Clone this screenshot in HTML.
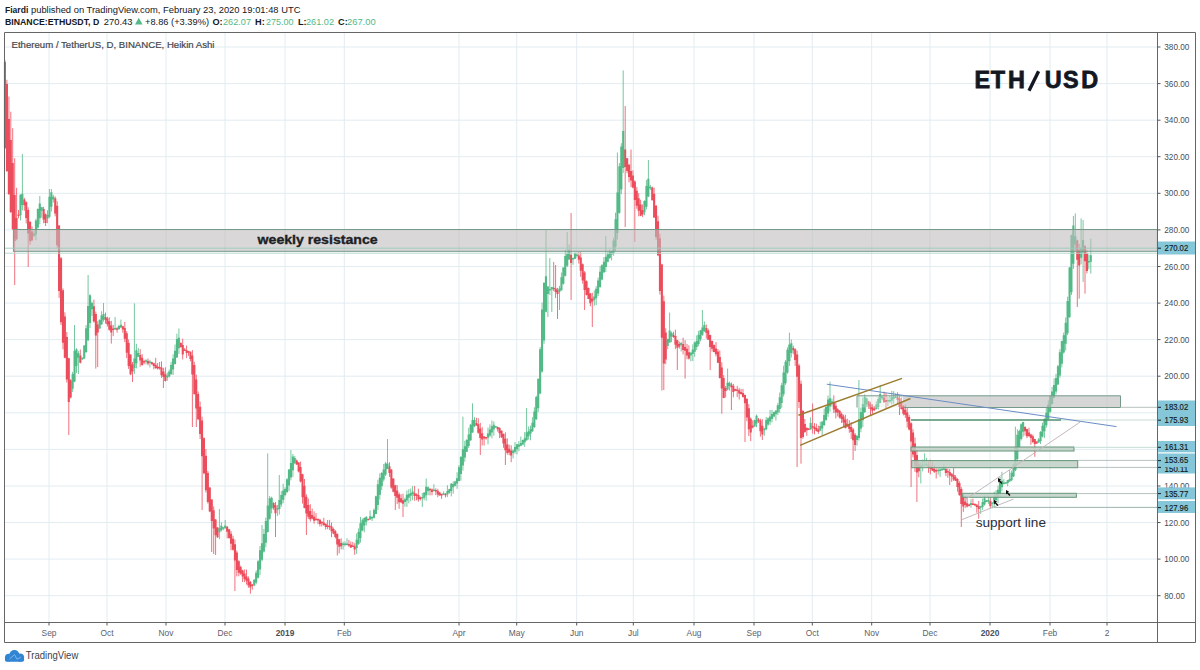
<!DOCTYPE html>
<html><head><meta charset="utf-8">
<style>
html,body{margin:0;padding:0;background:#fff;width:1200px;height:670px;overflow:hidden}
svg{display:block}
text{font-family:"Liberation Sans",sans-serif}
</style></head>
<body>
<svg width="1200" height="670" viewBox="0 0 1200 670">
<rect width="1200" height="670" fill="#fff"/>
<path d="M49 32V622M107 32V622M166 32V622M225 32V622M285 32V622M344.3 32V622M459 32V622M516.7 32V622M576.7 32V622M633.3 32V622M694 32V622M754 32V622M812.3 32V622M871.7 32V622M930 32V622M990 32V622M1050 32V622M1107 32V622M5 595.7H1157M5 559.1H1157M5 522.5H1157M5 486H1157M5 449.4H1157M5 412.8H1157M5 376.2H1157M5 339.6H1157M5 303.1H1157M5 266.5H1157M5 229.9H1157M5 193.3H1157M5 156.7H1157M5 120.2H1157M5 83.6H1157M5 47H1157" stroke="#e2ecf1" stroke-width="1" fill="none"/>
<path d="M5 60.3V149M6.9 79.8V172M8.9 96.5V195M10.8 111.7V213M12.7 128.2V230M14.7 158.3V285M16.6 187.8V240.2M18.5 210V218.3M24.3 197.8V210.8M26.2 201.3V223.5M28.2 207.4V267M30.1 221V244.9M32 226.4V241.4M43.6 206.8V223.2M45.6 213.4V226M55.2 196.4V216.4M57.2 201.2V247.7M59.1 225.3V297.9M61 256.9V325.1M63 288.4V349.4M64.9 312.3V358.3M66.8 332V382.6M68.8 357.7V435M70.7 379.1V398.4M80.3 349.5V363.5M93.9 299.6V322.6M95.8 311.5V368.6M97.7 321.2V367M105.5 312.6V323.7M107.4 316.8V326.5M109.3 317.3V330.6M111.3 320.9V343.6M113.2 324.9V336.2M117.1 327.2V332.7M122.8 325.8V332.8M124.8 321.9V342.1M126.7 331.2V358.1M128.6 339.5V368.9M130.6 354.4V375.2M132.5 362V382M140.2 349.1V366.7M142.2 354.1V365.7M144.1 359.8V364.2M148 358.4V365.3M151.8 361.6V364.5M153.8 362.7V369.4M155.7 357.8V368.9M157.6 363V369.6M159.6 362V369.7M161.5 361.4V377.8M163.4 367.8V388M165.4 367.3V381.5M180.8 342.3V347.8M182.7 338.6V359.5M184.7 348V351M186.6 345.5V358M188.5 350.8V355.9M190.5 351.6V361.3M192.4 350.1V427M194.3 361.8V394.7M196.3 374.7V427M198.2 391.4V420.1M200.1 401.7V439.1M202.1 416.7V510M204 437.3V474.3M205.9 449V492.6M207.9 470.9V503.6M209.8 487.2V512.2M211.7 499.2V552M213.7 506.4V554M215.6 519V555M217.5 527.1V537.9M227.2 526.1V538.4M229.1 529.1V538.7M231 531.1V550.2M233 535.7V550.6M234.9 539.4V591M236.8 550.6V576.4M238.8 560.2V576.3M240.7 565.6V575.1M242.6 569.7V582M244.6 569.4V582.2M246.5 569.6V584.6M248.4 576.4V587.8M250.4 581V593.7M252.3 584V589.8M273.5 502.3V509.8M275.5 501.9V537M296.7 459.5V464.9M298.7 462V472.5M300.6 461.5V482.5M302.5 473.9V503.6M304.5 479V508.3M306.4 494.3V535M308.3 498.5V519.1M310.3 504.2V521.6M312.2 508.6V519.4M314.1 511.3V523.6M316 513.1V520.3M318 518.2V524.3M319.9 518.8V526.5M321.8 521.3V526.5M323.8 517.8V525.9M325.7 523.5V529.6M327.6 520V529.2M329.6 519.8V529.9M331.5 522.6V537.1M333.4 527.5V534.3M335.4 530.1V538.5M337.3 533.4V555.5M339.2 538.9V553.4M341.2 538.3V549.4M348.9 539.9V546.9M350.8 541.5V548M352.8 541.9V546.8M354.7 543.2V554.9M368.2 518.9V520.2M389.5 462.3V476.9M391.4 469.4V488.7M393.3 478.3V492.4M395.3 484.9V510M397.2 485.1V504.1M399.1 492.5V508.8M401.1 494.3V503.2M403 493.6V517M414.6 486V500.8M416.5 493.4V500.3M418.4 488.7V501.7M420.4 496.5V500.4M430 488.6V495.4M432 488.5V495.3M435.8 488.3V495.1M437.8 488.8V497.2M439.7 491.8V495.5M441.6 493.5V498.8M445.5 493.2V497.4M476.4 417.8V425.8M478.3 418.2V433.7M480.3 422.9V455M482.2 427.1V445.5M484.1 436.1V445.5M486.1 436.9V439.8M497.7 426.5V431.6M499.6 427.3V438.1M501.5 430.4V437.9M503.5 433.4V447.8M505.4 432.4V465M507.3 438.4V454.7M509.2 444.6V455.3M511.2 445.3V462.2M553.7 262V291.2M555.6 265V298M557.5 287.8V319M571.1 213V300M578.8 251.7V263.6M580.7 251.4V276.8M582.7 263.4V283.7M584.6 271.1V310M586.5 280.4V295.4M588.5 287.5V299.1M590.4 293.1V306.3M592.3 292.8V327M625.2 106V227M627.1 158V173.1M629 163.9V182.4M631 149.5V187M632.9 170.4V188.3M634.8 180.2V242M636.8 186.9V208.8M638.7 193.2V216.4M640.6 199.8V216.2M642.6 204.4V217.1M652.2 186.6V200.4M654.1 187.7V218M656.1 205V239.9M658 215.6V256.1M659.9 233.7V294.6M661.9 263.8V390.6M663.8 295.6V390M665.7 328.3V364.1M673.5 331.8V337.9M675.4 329.7V349.1M677.3 339.8V370M679.3 341.6V348.6M683.1 337.6V354.4M685.1 340.2V378.6M687 343.9V359.2M688.9 345.3V359.6M706.3 324.5V338.6M708.2 328.7V340M710.2 334.9V370M712.1 340.6V351.6M714 344.5V352.3M716 342.1V356.5M717.9 349V363.1M719.8 350.5V378.5M721.8 362.2V413.7M723.7 375.1V398.2M725.6 386.1V397.4M731.4 382.4V410M733.4 383.8V397.3M735.3 388.7V391.1M737.2 385.9V397.1M739.2 387.8V399.5M741.1 388.8V394.7M743 388.9V397.6M745 394.5V442M746.9 398.1V421.2M748.8 404.1V436M750.7 417.3V441M752.7 420.4V428.4M758.5 418V423M760.4 418.7V436.7M762.3 419.2V440M793.3 345.7V354.3M795.2 348.3V366M797.1 350.7V467M799 363.8V408.1M801 380.6V463.7M802.9 409.9V438.9M804.8 419V432.8M806.8 427.2V435.8M808.7 428.3V429.6M812.6 403.5V433.6M814.5 423.1V434.4M816.4 423.7V431.5M818.4 425.6V433.8M833.8 395.3V413.1M835.8 402.9V418.4M837.7 408.1V416.4M839.6 410V418.4M841.6 412.3V423.1M843.5 414.6V427.1M845.4 414.8V428.5M847.3 418.7V426.9M849.3 420.2V432.8M851.2 422.2V439M853.1 428V460M855.1 433V451M868.6 400.9V408.8M870.5 401.8V415.3M872.5 404.2V413.8M874.4 406.1V411.1M884.1 391.7V402.7M886 393.1V408.7M897.6 392.3V404M899.5 395.8V415M901.4 397.5V409.6M903.4 405V415.4M905.3 404.8V417.9M907.2 407.2V427.6M909.2 415V430.5M911.1 422.2V487M913 429.2V457.3M915 437.5V471.9M916.9 450V502M918.8 461.2V477.3M928.5 461.2V472.8M930.4 459.7V474.3M932.4 461.7V471M934.3 464.8V473M936.2 468.3V478.5M945.9 467.6V476.1M947.8 468.6V477.8M949.7 469.1V485M951.7 473.5V481.9M953.6 468.2V480.9M955.5 475.2V481M957.5 478.3V491.7M959.4 481.3V495.9M961.3 487.1V527M963.3 495.6V511.9M965.2 495.6V508M967.1 497.3V507.5M969.1 503.9V506.4M972.9 498.6V504.9M974.9 503.2V505.8M976.8 503.9V512.7M978.7 501V518.7M990.3 497.1V508.6M1025.1 426.3V435.6M1027 428.8V438.2M1029 427.6V436.5M1030.9 433.7V444.8M1032.8 434.5V442.9M1034.8 438.8V456.8M1036.7 441.3V443.9M1077.3 239.6V307M1079.2 243.8V298.7M1085 245.2V293.6M1086.9 249.9V273.4" stroke="#eb4d5c" stroke-width="0.8" fill="none"/><path d="M20.5 194.4V220.4M22.4 154V210.3M34 230.2V236.9M35.9 218.9V240.2M37.8 208.4V228.8M39.8 196V224.4M41.7 206.9V217.6M47.5 210.1V223.2M49.4 189V217.8M51.4 189.1V211.5M53.3 194.7V202.5M72.6 371.8V391.9M74.5 325V382.2M76.5 348.3V372.9M78.4 351V374M82.3 357.3V360M84.2 345.2V359M86.1 325V353M88.1 275V341.1M90 294.3V328M91.9 301.5V316M99.7 319.2V329.1M101.6 311.3V325.1M103.5 303V321.7M115.1 317V329.9M119 324.8V329.9M120.9 319.6V327.8M134.4 303.4V373.9M136.4 343.8V368.4M138.3 347.9V356.9M146 359.2V364.4M149.9 359.8V367.5M167.3 372.6V380.8M169.2 369.4V377.5M171.1 361.7V375M173.1 354.2V375M175 344.5V364.5M176.9 333.7V357.6M178.9 328.5V354M219.4 509V539.2M221.4 522.2V531.4M223.3 527.5V530.3M225.2 520V529M254.2 579.2V586.3M256.2 570.4V584.3M258.1 560.2V578.4M260 546V575.1M262 525V561.4M263.9 528.9V552.7M265.8 517.7V547.3M267.7 453.4V532.6M269.7 496V519.7M271.6 496.7V513.4M277.4 504.9V516.1M279.3 475V514.6M281.3 491.2V506.8M283.2 483.7V503.1M285.1 487.3V496.3M287.1 478.2V493.1M289 469.1V491M290.9 450V480.4M292.9 453.9V476.9M294.8 455.8V464.2M343.1 541.6V549.5M345 541.4V546.3M347 538.2V545.5M356.6 533.4V553.8M358.6 528.4V544.7M360.5 516.9V542.6M362.4 518.6V531.2M364.3 517.3V532.3M366.3 516V525.5M370.1 510.5V519.9M372.1 515.7V521.1M374 508.5V518.5M375.9 495.7V514M377.9 479.7V509.8M379.8 473.3V499.6M381.7 472V490M383.7 464V481.5M385.6 461.8V476M387.5 439V469.2M404.9 497.8V506.7M406.9 490.5V506.9M408.8 489.2V503.4M410.7 488.5V501.3M412.6 486.1V500.2M422.3 493V507M424.2 492.3V500.1M426.2 478.6V500.8M428.1 486.4V495.3M433.9 484.2V491.4M443.6 491.3V495M447.4 485.2V497M449.4 488.8V493.6M451.3 483V496.4M453.2 481.3V493.8M455.2 480.7V486.3M457.1 472.2V488.9M459 465.1V481.1M460.9 456V480.6M462.9 416.7V470.6M464.8 440.8V461.8M466.7 439.2V452M468.7 427.8V448M470.6 423.8V440.9M472.5 403.3V432.7M474.5 417.1V427.2M488 427.5V444.3M489.9 424.4V437M491.9 420.5V438.3M493.8 421.4V435.7M495.7 425.9V427.4M513.1 449.4V458.4M515 442.1V453.8M517 443.9V454.4M518.9 440.9V451.4M520.8 436.6V446.3M522.8 439.6V445.3M524.7 432.1V446.9M526.6 408V440.7M528.6 426.5V439.6M530.5 425.6V440.3M532.4 417.2V431.9M534.4 407.3V427.9M536.3 395.7V419.9M538.2 378.3V412.2M540.2 347.2V394.1M542.1 302.6V372.6M544 282V343.9M546 229V312.5M547.9 286.2V317M549.8 258V295M551.8 286.8V312M559.5 285.9V310M561.4 272.5V290.7M563.3 267.4V284.7M565.3 249.9V276.5M567.2 232V267.2M569.1 244.3V259.9M573 257.6V264.8M574.9 252.3V259.2M576.9 252.6V257.5M594.3 290.5V305.8M596.2 286.2V305M598.1 277.6V296.1M600.1 266.1V287.7M602 264.1V280.2M603.9 257.1V273.1M605.8 236V272.1M607.8 252.1V262.4M609.7 249.3V258.9M611.6 250.8V260.3M613.6 237.8V255.7M615.5 212.6V251M617.4 152.5V239.4M619.4 163V213.7M621.3 143.2V194.2M623.2 70.4V173M644.5 200.3V215.2M646.4 180.1V209.4M648.4 160V197.1M650.3 184.8V190M667.7 338.6V349M669.6 312.5V342.6M671.5 331.6V342.2M681.2 341.8V351.5M690.9 351.8V361.4M692.8 344.4V361M694.7 341.6V356.8M696.7 335.4V349.9M698.6 330.9V346.3M700.5 330.2V341.3M702.4 310V335.8M704.4 321.5V332.1M727.6 368.5V390.3M729.5 381.6V390.6M754.6 419.6V426.7M756.5 414.6V427.2M764.3 427.9V435.8M766.2 417V430.3M768.1 417.5V425.7M770.1 410V424.9M772 409.9V422.5M773.9 411.6V417.4M775.9 409.9V420.5M777.8 402.9V415M779.7 392.5V412.9M781.7 382.8V407.8M783.6 365.7V396.6M785.5 360V384.9M787.5 347.3V373.8M789.4 332.6V366M791.3 339.5V357.5M810.6 417.4V429.8M820.3 421.8V430.9M822.2 420.8V435.1M824.2 408.6V426.1M826.1 406.1V420.7M828 395.5V416.8M830 381.7V411.5M831.9 398.6V406.7M857 434.9V445.6M858.9 380V440.5M860.9 407.6V432.2M862.8 397.6V427.1M864.7 394.4V413.1M866.7 397.5V407.1M876.3 401.3V409.4M878.3 396.7V409.4M880.2 385V403.2M882.1 396V400.1M887.9 397V406.1M889.9 396.1V403.1M891.8 390.8V404.7M893.7 391.2V403.7M895.6 393.4V398.1M920.8 462.5V483.5M922.7 459.5V471.3M924.6 453.4V465.8M926.6 457.9V465.9M938.2 468.2V474.7M940.1 467V476.9M942 468.3V470.9M943.9 463.8V470.1M971 499.1V507.8M980.7 505.7V513.9M982.6 498.5V509.9M984.5 495.4V505.6M986.5 500V502.1M988.4 495.5V503.9M992.2 502.3V508.4M994.2 491.8V507.7M996.1 490V501.5M998 485.6V503.3M1000 477V497.3M1001.9 471.8V491.3M1003.8 479.2V484.6M1005.8 481.9V483.5M1007.7 479.9V486.2M1009.6 470V481.8M1011.6 470.4V481.2M1013.5 463.6V477M1015.4 426.7V471.2M1017.4 429.3V464.5M1019.3 429.6V447.6M1021.2 423.3V440.4M1023.2 421.8V436.6M1038.6 438.1V442.8M1040.5 431.1V443.9M1042.5 422.6V437.4M1044.4 418.2V438.1M1046.3 407.7V427.7M1048.3 400.4V419.9M1050.2 395.5V412.8M1052.1 386.8V404.4M1054.1 378.4V398.1M1056 373.9V394.4M1057.9 365V385M1059.9 349.2V377.7M1061.8 340.8V367.5M1063.7 332.6V353.6M1065.7 317.4V350.5M1067.6 296.7V335.2M1069.5 267.1V317.7M1071.5 234.7V294.9M1073.4 215.9V269M1075.3 213.4V250.8M1081.1 218.4V264.3M1083.1 220V282M1088.8 254.5V269.3M1090.8 238.5V273.6" stroke="#53b987" stroke-width="0.8" fill="none"/><path d="M3.9 62h2.1V148h-2.1zM5.9 84h2.1V171h-2.1zM7.8 119h2.1V194h-2.1zM9.7 140h2.1V212h-2.1zM11.7 163h2.1V229h-2.1zM13.6 195h2.1V241h-2.1zM15.5 218h2.1V239.1h-2.1zM17.5 214.5h2.1V216h-2.1zM23.3 199.4h2.1V205.3h-2.1zM25.2 202.3h2.1V217.9h-2.1zM27.1 210.1h2.1V233.6h-2.1zM29.1 221.9h2.1V241.2h-2.1zM31 231.5h2.1V240.3h-2.1zM42.6 209.1h2.1V219.4h-2.1zM44.5 214.2h2.1V222.9h-2.1zM54.2 198.2h2.1V213.4h-2.1zM56.1 205.8h2.1V245.3h-2.1zM58 225.6h2.1V291h-2.1zM60 258.3h2.1V322.2h-2.1zM61.9 290.2h2.1V342.7h-2.1zM63.8 316.5h2.1V357.7h-2.1zM65.8 337.1h2.1V379.5h-2.1zM67.7 358.3h2.1V402h-2.1zM69.6 380.2h2.1V397.5h-2.1zM79.3 355.5h2.1V362.8h-2.1zM92.8 306.2h2.1V321.6h-2.1zM94.8 313.9h2.1V335.4h-2.1zM96.7 324.6h2.1V332.5h-2.1zM104.4 316.9h2.1V319.7h-2.1zM106.3 318.3h2.1V324.2h-2.1zM108.3 321.2h2.1V329.8h-2.1zM110.2 325.5h2.1V332.4h-2.1zM112.1 328.5h2.1V330h-2.1zM116 328.3h2.1V329.8h-2.1zM121.8 326.2h2.1V329.5h-2.1zM123.7 327.9h2.1V338.7h-2.1zM125.7 333.3h2.1V352.8h-2.1zM127.6 343h2.1V366.1h-2.1zM129.5 354.6h2.1V374.3h-2.1zM131.5 364.4h2.1V371.6h-2.1zM139.2 354.9h2.1V360.6h-2.1zM141.1 357.7h2.1V365.1h-2.1zM143 360.9h2.1V362.4h-2.1zM146.9 361h2.1V363.4h-2.1zM150.8 362.2h2.1V364.3h-2.1zM152.7 363.2h2.1V366.1h-2.1zM154.6 364.7h2.1V368h-2.1zM156.6 366.4h2.1V368.5h-2.1zM158.5 366.9h2.1V368.4h-2.1zM160.4 367.6h2.1V375.2h-2.1zM162.4 371.4h2.1V376.9h-2.1zM164.3 374.2h2.1V381.1h-2.1zM179.8 342.9h2.1V346.9h-2.1zM181.7 344.9h2.1V354.4h-2.1zM183.6 349.5h2.1V351h-2.1zM185.6 350.2h2.1V353h-2.1zM187.5 351.1h2.1V352.6h-2.1zM189.4 351.8h2.1V359h-2.1zM191.3 355.4h2.1V374.6h-2.1zM193.3 365h2.1V394h-2.1zM195.2 379.5h2.1V408.6h-2.1zM197.1 394.1h2.1V419.3h-2.1zM199.1 406.7h2.1V434.1h-2.1zM201 420.4h2.1V456.2h-2.1zM202.9 438.3h2.1V473.3h-2.1zM204.9 455.8h2.1V490.2h-2.1zM206.8 473h2.1V501.9h-2.1zM208.7 487.4h2.1V511.6h-2.1zM210.7 499.5h2.1V521.1h-2.1zM212.6 510.3h2.1V528.5h-2.1zM214.5 519.4h2.1V535.3h-2.1zM216.5 527.4h2.1V537.2h-2.1zM226.1 526.8h2.1V531.7h-2.1zM228.1 529.3h2.1V538.1h-2.1zM230 533.7h2.1V543.7h-2.1zM231.9 538.7h2.1V549.8h-2.1zM233.9 544.2h2.1V560.6h-2.1zM235.8 552.4h2.1V570h-2.1zM237.7 561.2h2.1V572.8h-2.1zM239.6 567h2.1V573.7h-2.1zM241.6 570.4h2.1V576.6h-2.1zM243.5 573.5h2.1V579.3h-2.1zM245.4 576.4h2.1V580.7h-2.1zM247.4 578.5h2.1V585.4h-2.1zM249.3 582h2.1V587.5h-2.1zM251.2 584.6h2.1V586.1h-2.1zM272.5 503.1h2.1V507.6h-2.1zM274.4 505.3h2.1V513.2h-2.1zM295.7 460.6h2.1V464.4h-2.1zM297.6 462.5h2.1V471.5h-2.1zM299.5 467h2.1V481.5h-2.1zM301.5 474.3h2.1V497.2h-2.1zM303.4 485.7h2.1V507.9h-2.1zM305.3 496.8h2.1V513.4h-2.1zM307.3 505.1h2.1V516.8h-2.1zM309.2 511h2.1V519.3h-2.1zM311.1 515.1h2.1V518.6h-2.1zM313.1 516.8h2.1V520.7h-2.1zM315 518.7h2.1V520.2h-2.1zM316.9 519h2.1V520.5h-2.1zM318.9 519.7h2.1V524.1h-2.1zM320.8 521.7h2.1V523.2h-2.1zM322.7 522.4h2.1V525.1h-2.1zM324.7 523.8h2.1V526.9h-2.1zM326.6 525.4h2.1V526.9h-2.1zM328.5 525.8h2.1V527.3h-2.1zM330.5 526.6h2.1V531.3h-2.1zM332.4 528.9h2.1V533.4h-2.1zM334.3 531.2h2.1V537h-2.1zM336.2 534.1h2.1V544.5h-2.1zM338.2 539.3h2.1V546.7h-2.1zM340.1 543h2.1V546.3h-2.1zM347.8 544.1h2.1V545.6h-2.1zM349.8 544.8h2.1V547.6h-2.1zM351.7 545.5h2.1V547h-2.1zM353.6 546.3h2.1V549.6h-2.1zM367.2 518.7h2.1V520.2h-2.1zM388.4 466.3h2.1V472.9h-2.1zM390.3 469.6h2.1V487.6h-2.1zM392.3 478.6h2.1V491.8h-2.1zM394.2 485.2h2.1V496h-2.1zM396.1 490.6h2.1V497.8h-2.1zM398.1 494.2h2.1V502.3h-2.1zM400 498.2h2.1V502.2h-2.1zM401.9 500.2h2.1V503.8h-2.1zM413.5 492.9h2.1V495.9h-2.1zM415.5 494.3h2.1V495.8h-2.1zM417.4 495.1h2.1V499.5h-2.1zM419.3 497.3h2.1V499h-2.1zM429 488.8h2.1V490.3h-2.1zM430.9 489.6h2.1V491.9h-2.1zM434.8 490h2.1V491.5h-2.1zM436.7 490.7h2.1V494.5h-2.1zM438.6 492.6h2.1V495.4h-2.1zM440.6 493.9h2.1V495.4h-2.1zM444.4 493.8h2.1V495.3h-2.1zM475.4 423.1h2.1V425.4h-2.1zM477.3 424.3h2.1V432.7h-2.1zM479.2 428.5h2.1V437.9h-2.1zM481.1 433.2h2.1V439.6h-2.1zM483.1 436.4h2.1V438.6h-2.1zM485 436.9h2.1V438.4h-2.1zM496.6 426.9h2.1V429.3h-2.1zM498.5 428.1h2.1V433.3h-2.1zM500.5 430.7h2.1V437.2h-2.1zM502.4 434h2.1V443.4h-2.1zM504.3 438.7h2.1V450.2h-2.1zM506.3 444.5h2.1V452.9h-2.1zM508.2 448.7h2.1V452.5h-2.1zM510.1 450.6h2.1V455.4h-2.1zM552.6 287.7h2.1V289.2h-2.1zM554.6 288.5h2.1V291.9h-2.1zM556.5 290.2h2.1V293.9h-2.1zM570 254.7h2.1V262.9h-2.1zM577.8 255.4h2.1V259.7h-2.1zM579.7 257.6h2.1V270.8h-2.1zM581.6 264.2h2.1V280.5h-2.1zM583.5 272.4h2.1V290h-2.1zM585.5 281.2h2.1V295h-2.1zM587.4 288.1h2.1V299h-2.1zM589.3 293.5h2.1V303.2h-2.1zM591.3 298.4h2.1V301.4h-2.1zM624.1 149.6h2.1V167.1h-2.1zM626.1 158.3h2.1V171.1h-2.1zM628 164.7h2.1V177.1h-2.1zM629.9 170.9h2.1V180.4h-2.1zM631.8 175.6h2.1V187.4h-2.1zM633.8 181.5h2.1V199.9h-2.1zM635.7 190.7h2.1V205.7h-2.1zM637.6 198.2h2.1V210.7h-2.1zM639.6 204.5h2.1V215.8h-2.1zM641.5 210.1h2.1V214.5h-2.1zM651.2 187.5h2.1V200.2h-2.1zM653.1 193.8h2.1V217.6h-2.1zM655 205.7h2.1V236.9h-2.1zM657 221.3h2.1V255.3h-2.1zM658.9 238.3h2.1V290.9h-2.1zM660.8 264.6h2.1V337.8h-2.1zM662.8 301.2h2.1V363.5h-2.1zM664.7 332.4h2.1V359.6h-2.1zM672.4 334.8h2.1V337h-2.1zM674.4 335.9h2.1V344.8h-2.1zM676.3 340.3h2.1V347.7h-2.1zM678.2 344h2.1V346.5h-2.1zM682.1 344.1h2.1V349.9h-2.1zM684 347h2.1V350.7h-2.1zM685.9 348.8h2.1V355.6h-2.1zM687.9 352.2h2.1V358.6h-2.1zM705.3 328.1h2.1V332.7h-2.1zM707.2 330.4h2.1V339.8h-2.1zM709.1 335.1h2.1V346.9h-2.1zM711.1 341h2.1V348.8h-2.1zM713 344.9h2.1V352h-2.1zM714.9 348.5h2.1V354.3h-2.1zM716.9 351.4h2.1V362.7h-2.1zM718.8 357h2.1V378.1h-2.1zM720.7 367.5h2.1V388.4h-2.1zM722.6 378h2.1V398.1h-2.1zM724.6 388h2.1V391h-2.1zM730.4 384.5h2.1V387.3h-2.1zM732.3 385.9h2.1V391.9h-2.1zM734.2 388.9h2.1V390.7h-2.1zM736.2 389.5h2.1V391h-2.1zM738.1 390.2h2.1V393.6h-2.1zM740 391.9h2.1V393.9h-2.1zM742 392.9h2.1V396.9h-2.1zM743.9 394.9h2.1V403.2h-2.1zM745.8 399h2.1V417.4h-2.1zM747.8 408.2h2.1V429.2h-2.1zM749.7 418.7h2.1V432.4h-2.1zM751.6 425.5h2.1V427.5h-2.1zM757.4 419.5h2.1V421.3h-2.1zM759.4 420.4h2.1V431.2h-2.1zM761.3 425.8h2.1V434.5h-2.1zM792.2 348.1h2.1V350.3h-2.1zM794.1 349.2h2.1V359.9h-2.1zM796.1 354.5h2.1V376.7h-2.1zM798 365.6h2.1V401.9h-2.1zM799.9 383.8h2.1V438h-2.1zM801.9 410.9h2.1V437.1h-2.1zM803.8 424h2.1V431.9h-2.1zM805.7 428h2.1V430.3h-2.1zM807.7 428.5h2.1V430h-2.1zM811.5 426h2.1V427.5h-2.1zM813.5 426.7h2.1V429.1h-2.1zM815.4 427.9h2.1V431h-2.1zM817.3 429.5h2.1V431.9h-2.1zM832.8 402h2.1V409.6h-2.1zM834.7 405.8h2.1V412.5h-2.1zM836.6 409.2h2.1V412.4h-2.1zM838.6 410.8h2.1V417.4h-2.1zM840.5 414.1h2.1V419.1h-2.1zM842.4 416.6h2.1V422.6h-2.1zM844.4 419.6h2.1V428h-2.1zM846.3 423.8h2.1V426.5h-2.1zM848.2 425.1h2.1V428.9h-2.1zM850.2 427h2.1V432h-2.1zM852.1 429.5h2.1V440.2h-2.1zM854 434.8h2.1V445.1h-2.1zM867.6 401.5h2.1V406.5h-2.1zM869.5 404h2.1V409.1h-2.1zM871.4 406.5h2.1V410.8h-2.1zM873.3 408.4h2.1V409.9h-2.1zM883 397.4h2.1V402.3h-2.1zM884.9 399.9h2.1V402.1h-2.1zM896.5 397.2h2.1V399.7h-2.1zM898.5 398.5h2.1V407h-2.1zM900.4 402.7h2.1V409.1h-2.1zM902.3 405.9h2.1V413.7h-2.1zM904.3 409.8h2.1V414.9h-2.1zM906.2 412.4h2.1V421.5h-2.1zM908.1 417h2.1V429.5h-2.1zM910.1 423.2h2.1V441.5h-2.1zM912 432.4h2.1V454.5h-2.1zM913.9 443.5h2.1V466.6h-2.1zM915.9 455h2.1V472.5h-2.1zM917.8 463.8h2.1V471.2h-2.1zM927.4 464.8h2.1V467.7h-2.1zM929.4 466.3h2.1V468.8h-2.1zM931.3 467.5h2.1V470.4h-2.1zM933.2 469h2.1V471.8h-2.1zM935.2 470h2.1V471.5h-2.1zM944.8 469.1h2.1V473.1h-2.1zM946.8 471.1h2.1V472.6h-2.1zM948.7 471.9h2.1V475.4h-2.1zM950.6 473.6h2.1V476.5h-2.1zM952.6 475h2.1V479.4h-2.1zM954.5 477.2h2.1V480.8h-2.1zM956.4 479h2.1V486.9h-2.1zM958.4 483h2.1V495.1h-2.1zM960.3 489h2.1V503.9h-2.1zM962.2 496.5h2.1V506.5h-2.1zM964.1 501.5h2.1V505h-2.1zM966.1 503.2h2.1V506.4h-2.1zM968 504.4h2.1V505.9h-2.1zM971.9 503.5h2.1V505h-2.1zM973.8 504.1h2.1V505.6h-2.1zM975.7 504.8h2.1V507h-2.1zM977.7 505.9h2.1V509.1h-2.1zM989.3 500.9h2.1V505.9h-2.1zM1024 426.9h2.1V431.2h-2.1zM1026 429h2.1V436.3h-2.1zM1027.9 432.6h2.1V436.3h-2.1zM1029.8 434.5h2.1V438.1h-2.1zM1031.8 436.3h2.1V442h-2.1zM1033.7 439.1h2.1V444h-2.1zM1035.6 441.5h2.1V443.4h-2.1zM1076.2 240.4h2.1V259.7h-2.1zM1078.1 250h2.1V265.4h-2.1zM1083.9 246.3h2.1V261.2h-2.1zM1085.9 253.8h2.1V271h-2.1z" fill="#eb4d5c"/><path d="M19.4 194.8h2.1V215.3h-2.1zM21.3 193.7h2.1V205h-2.1zM32.9 233.4h2.1V235.9h-2.1zM34.9 220.4h2.1V234.6h-2.1zM36.8 208.9h2.1V227.5h-2.1zM38.7 203.4h2.1V218.2h-2.1zM40.7 207.3h2.1V210.8h-2.1zM46.5 215.1h2.1V218.5h-2.1zM48.4 196.7h2.1V216.8h-2.1zM50.3 192.3h2.1V206.8h-2.1zM52.2 196.8h2.1V199.5h-2.1zM71.6 374h2.1V388.8h-2.1zM73.5 350.8h2.1V381.4h-2.1zM75.4 349.3h2.1V366.1h-2.1zM77.4 353.2h2.1V357.7h-2.1zM81.2 357.8h2.1V359.3h-2.1zM83.2 345.4h2.1V358.6h-2.1zM85.1 328.3h2.1V352h-2.1zM87 306.1h2.1V340.2h-2.1zM89 295.2h2.1V323.1h-2.1zM90.9 303.1h2.1V309.2h-2.1zM98.6 319.9h2.1V328.6h-2.1zM100.5 315.4h2.1V324.2h-2.1zM102.5 313.9h2.1V319.8h-2.1zM114.1 328.1h2.1V329.6h-2.1zM117.9 326.1h2.1V329h-2.1zM119.9 324.8h2.1V327.5h-2.1zM133.4 358.4h2.1V368h-2.1zM135.3 350.3h2.1V363.2h-2.1zM137.3 353h2.1V356.8h-2.1zM145 360.2h2.1V361.7h-2.1zM148.8 361.4h2.1V362.9h-2.1zM166.2 375.6h2.1V377.6h-2.1zM168.2 371.5h2.1V376.6h-2.1zM170.1 365h2.1V374h-2.1zM172 358.6h2.1V369.5h-2.1zM174 350.7h2.1V364.1h-2.1zM175.9 339h2.1V357.4h-2.1zM177.8 337.7h2.1V348.2h-2.1zM218.4 528.3h2.1V532.3h-2.1zM220.3 525.7h2.1V530.3h-2.1zM222.3 527.2h2.1V528.7h-2.1zM224.2 525.6h2.1V527.9h-2.1zM253.2 579.7h2.1V585.4h-2.1zM255.1 572.8h2.1V582.5h-2.1zM257 561.2h2.1V577.7h-2.1zM259 550.2h2.1V569.4h-2.1zM260.9 543.2h2.1V559.8h-2.1zM262.8 534.1h2.1V551.5h-2.1zM264.8 521h2.1V542.8h-2.1zM266.7 505.5h2.1V531.9h-2.1zM268.6 498.2h2.1V518.7h-2.1zM270.6 497.7h2.1V508.5h-2.1zM276.4 508.3h2.1V509.8h-2.1zM278.3 500.1h2.1V509h-2.1zM280.2 495.1h2.1V504.6h-2.1zM282.2 490.4h2.1V499.8h-2.1zM284.1 489h2.1V495.1h-2.1zM286 479.2h2.1V492.1h-2.1zM287.9 469.4h2.1V485.6h-2.1zM289.9 462.9h2.1V477.5h-2.1zM291.8 456.5h2.1V470.2h-2.1zM293.7 457.9h2.1V463.3h-2.1zM342 543.6h2.1V545.1h-2.1zM344 543.5h2.1V545h-2.1zM345.9 543.4h2.1V544.9h-2.1zM355.6 539.7h2.1V548h-2.1zM357.5 532.1h2.1V543.8h-2.1zM359.4 523.3h2.1V538h-2.1zM361.4 520.3h2.1V530.6h-2.1zM363.3 517.9h2.1V525.5h-2.1zM365.2 517h2.1V521.7h-2.1zM369.1 516.2h2.1V519.4h-2.1zM371 517h2.1V518.5h-2.1zM373 510h2.1V517.7h-2.1zM374.9 496.3h2.1V513.9h-2.1zM376.8 484.3h2.1V505.1h-2.1zM378.8 477.7h2.1V494.7h-2.1zM380.7 472.9h2.1V486.2h-2.1zM382.6 469.6h2.1V479.6h-2.1zM384.5 463.4h2.1V474.6h-2.1zM386.5 463.6h2.1V469h-2.1zM403.9 499.3h2.1V502h-2.1zM405.8 494.7h2.1V500.6h-2.1zM407.7 493.9h2.1V497.7h-2.1zM409.7 492.9h2.1V495.8h-2.1zM411.6 491.5h2.1V494.3h-2.1zM421.3 497h2.1V498.5h-2.1zM423.2 492.6h2.1V497.8h-2.1zM425.1 486.8h2.1V495.2h-2.1zM427.1 487.3h2.1V491h-2.1zM432.8 489.6h2.1V491.1h-2.1zM442.5 493.3h2.1V494.8h-2.1zM446.4 490.9h2.1V494.5h-2.1zM448.3 489.1h2.1V492.7h-2.1zM450.2 483.8h2.1V490.9h-2.1zM452.2 484.1h2.1V487.3h-2.1zM454.1 481.5h2.1V485.7h-2.1zM456 478.3h2.1V483.6h-2.1zM458 467.2h2.1V480.9h-2.1zM459.9 457h2.1V474.1h-2.1zM461.8 449.2h2.1V465.5h-2.1zM463.8 446.2h2.1V457.4h-2.1zM465.7 440h2.1V451.8h-2.1zM467.6 434.5h2.1V445.9h-2.1zM469.6 424.7h2.1V440.2h-2.1zM471.5 420.1h2.1V432.4h-2.1zM473.4 419.9h2.1V426.3h-2.1zM486.9 433.5h2.1V437.7h-2.1zM488.9 429.6h2.1V435.6h-2.1zM490.8 426.2h2.1V432.6h-2.1zM492.7 424.7h2.1V429.4h-2.1zM494.7 426.2h2.1V427.7h-2.1zM512.1 450.4h2.1V453h-2.1zM514 446.9h2.1V451.7h-2.1zM515.9 444.3h2.1V449.3h-2.1zM517.9 444.6h2.1V446.8h-2.1zM519.8 443h2.1V445.7h-2.1zM521.7 439.9h2.1V444.4h-2.1zM523.7 438.2h2.1V442.2h-2.1zM525.6 432.2h2.1V440.2h-2.1zM527.5 431.2h2.1V436.2h-2.1zM529.5 428.9h2.1V433.7h-2.1zM531.4 422.8h2.1V431.3h-2.1zM533.3 411.5h2.1V427.1h-2.1zM535.2 397.1h2.1V419.3h-2.1zM537.2 379h2.1V408.2h-2.1zM539.1 349.3h2.1V393.6h-2.1zM541 309.5h2.1V371.4h-2.1zM543 282.9h2.1V340.5h-2.1zM544.9 276.2h2.1V311.7h-2.1zM546.8 286.5h2.1V294h-2.1zM548.8 288.9h2.1V290.4h-2.1zM550.7 287.1h2.1V289.6h-2.1zM558.4 288.4h2.1V292h-2.1zM560.4 277.3h2.1V290.2h-2.1zM562.3 267.6h2.1V283.7h-2.1zM564.2 255.9h2.1V275.7h-2.1zM566.2 253.4h2.1V265.8h-2.1zM568.1 249.9h2.1V259.6h-2.1zM572 258h2.1V259.5h-2.1zM573.9 252.9h2.1V258.7h-2.1zM575.8 254.6h2.1V256.1h-2.1zM593.2 296.4h2.1V299.9h-2.1zM595.1 288.7h2.1V298.2h-2.1zM597.1 280.5h2.1V293.4h-2.1zM599 271.8h2.1V286.9h-2.1zM600.9 265.2h2.1V279.4h-2.1zM602.9 261.7h2.1V272.3h-2.1zM604.8 256.7h2.1V267h-2.1zM606.7 254.3h2.1V261.8h-2.1zM608.7 251.2h2.1V258.1h-2.1zM610.6 251.3h2.1V254.6h-2.1zM612.5 240.5h2.1V253h-2.1zM614.5 219.2h2.1V246.7h-2.1zM616.4 192.5h2.1V232.9h-2.1zM618.3 166.2h2.1V212.7h-2.1zM620.3 146.6h2.1V189.4h-2.1zM622.2 131.1h2.1V168h-2.1zM643.4 201.1h2.1V212.3h-2.1zM645.4 186.1h2.1V206.7h-2.1zM647.3 178.7h2.1V196.4h-2.1zM649.2 186.7h2.1V188.2h-2.1zM666.6 338.9h2.1V346h-2.1zM668.6 330.6h2.1V342.4h-2.1zM670.5 333.1h2.1V336.5h-2.1zM680.1 342.9h2.1V345.3h-2.1zM689.8 352.8h2.1V355.4h-2.1zM691.7 349.6h2.1V354.1h-2.1zM693.7 342.4h2.1V351.8h-2.1zM695.6 340.9h2.1V347.1h-2.1zM697.5 334.7h2.1V344h-2.1zM699.5 330.3h2.1V339.3h-2.1zM701.4 327.4h2.1V334.8h-2.1zM703.3 325.1h2.1V331.1h-2.1zM726.5 382.5h2.1V389.5h-2.1zM728.4 382.9h2.1V386h-2.1zM753.6 420.2h2.1V426.5h-2.1zM755.5 415.7h2.1V423.4h-2.1zM763.2 428.4h2.1V430.2h-2.1zM765.2 419.9h2.1V429.3h-2.1zM767.1 418.3h2.1V424.6h-2.1zM769 416.6h2.1V421.5h-2.1zM771 414h2.1V419h-2.1zM772.9 411.9h2.1V416.5h-2.1zM774.8 410.8h2.1V414.2h-2.1zM776.7 405.3h2.1V412.5h-2.1zM778.7 397.2h2.1V408.9h-2.1zM780.6 385.3h2.1V403h-2.1zM782.5 372.4h2.1V394.2h-2.1zM784.5 361.7h2.1V383.3h-2.1zM786.4 349.8h2.1V372.5h-2.1zM788.3 344.6h2.1V361.2h-2.1zM790.3 343.2h2.1V352.9h-2.1zM809.6 422.9h2.1V429.2h-2.1zM819.2 426.1h2.1V430.7h-2.1zM821.2 421.7h2.1V428.4h-2.1zM823.1 415.1h2.1V425h-2.1zM825 407.1h2.1V420.1h-2.1zM827 399.5h2.1V413.6h-2.1zM828.9 398.3h2.1V406.5h-2.1zM830.8 401.3h2.1V402.8h-2.1zM856 436h2.1V440h-2.1zM857.9 419.3h2.1V438h-2.1zM859.8 412h2.1V428.6h-2.1zM861.8 403.9h2.1V420.3h-2.1zM863.7 396.8h2.1V412.1h-2.1zM865.6 398.5h2.1V404.4h-2.1zM875.3 404.6h2.1V409.1h-2.1zM877.2 399.1h2.1V406.9h-2.1zM879.1 394.1h2.1V403h-2.1zM881.1 396.3h2.1V398.5h-2.1zM886.9 400h2.1V401.5h-2.1zM888.8 399.9h2.1V401.4h-2.1zM890.7 397h2.1V400.7h-2.1zM892.7 396.8h2.1V398.8h-2.1zM894.6 396.5h2.1V398h-2.1zM919.7 464.8h2.1V467.5h-2.1zM921.6 464.8h2.1V466.3h-2.1zM923.6 464.4h2.1V465.9h-2.1zM925.5 464.1h2.1V465.6h-2.1zM937.1 469.8h2.1V471.3h-2.1zM939 469.6h2.1V471.1h-2.1zM941 468.7h2.1V470.3h-2.1zM942.9 468.4h2.1V469.9h-2.1zM969.9 503h2.1V505.1h-2.1zM979.6 506.2h2.1V507.7h-2.1zM981.5 502.1h2.1V507h-2.1zM983.5 498.2h2.1V504.5h-2.1zM985.4 500.5h2.1V502h-2.1zM987.3 500.1h2.1V501.6h-2.1zM991.2 502.6h2.1V504.1h-2.1zM993.1 496.7h2.1V503.3h-2.1zM995.1 494.3h2.1V500h-2.1zM997 489.7h2.1V497.2h-2.1zM998.9 481.1h2.1V493.5h-2.1zM1000.9 480.8h2.1V487.3h-2.1zM1002.8 482.5h2.1V484.1h-2.1zM1004.7 482.2h2.1V483.7h-2.1zM1006.7 480.1h2.1V483h-2.1zM1008.6 479h2.1V481.5h-2.1zM1010.5 472.7h2.1V480.3h-2.1zM1012.5 464h2.1V476.5h-2.1zM1014.4 447.6h2.1V470.2h-2.1zM1016.3 434.7h2.1V458.9h-2.1zM1018.2 431.1h2.1V446.8h-2.1zM1020.2 424.3h2.1V439h-2.1zM1022.1 422.1h2.1V431.7h-2.1zM1037.6 439.4h2.1V442.5h-2.1zM1039.5 432.1h2.1V440.9h-2.1zM1041.4 425.8h2.1V436.5h-2.1zM1043.4 419.2h2.1V431.2h-2.1zM1045.3 412.7h2.1V425.2h-2.1zM1047.2 404.8h2.1V418.9h-2.1zM1049.2 396.1h2.1V411.8h-2.1zM1051.1 391.5h2.1V404h-2.1zM1053 385.1h2.1V397.7h-2.1zM1055 377.9h2.1V391.4h-2.1zM1056.9 366.2h2.1V384.6h-2.1zM1058.8 352.3h2.1V375.4h-2.1zM1060.8 340.9h2.1V363.8h-2.1zM1062.7 335.3h2.1V352.4h-2.1zM1064.6 322.7h2.1V343.8h-2.1zM1066.5 301.1h2.1V333.3h-2.1zM1068.5 267.5h2.1V317.2h-2.1zM1070.4 235.2h2.1V292.3h-2.1zM1072.3 225.5h2.1V263.8h-2.1zM1074.3 236.2h2.1V244.6h-2.1zM1080.1 247.7h2.1V257.7h-2.1zM1082 239.9h2.1V252.7h-2.1zM1087.8 260.9h2.1V262.4h-2.1zM1089.7 255.3h2.1V261.7h-2.1z" fill="#53b987"/>
<!-- weekly resistance -->
<rect x="13.4" y="229.5" width="1144" height="21.8" fill="#bfbdbd" fill-opacity="0.6" stroke="#76998a" stroke-width="1"/>
<path d="M5 253.2H1157" stroke="#b9d8cf" stroke-width="1"/>
<path d="M5 248.2H1157" stroke="#9ccabb" stroke-width="0.9"/>
<text x="257.6" y="244.3" font-size="12.8" font-weight="bold" fill="#1c1f26" stroke="#1c1f26" stroke-width="0.35" textLength="120" lengthAdjust="spacingAndGlyphs">weekly resistance</text>
<!-- zones -->
<rect x="903" y="395.8" width="217.5" height="11.7" fill="#bfbdbd" fill-opacity="0.62"/><rect x="857" y="395.8" width="46" height="11.7" fill="#dfe9e3" fill-opacity="0.35"/><path d="M857 395.8H1120.5V407.5H903M857 395.8V407.5" stroke="#76998a" stroke-width="1" fill="none"/>
<path d="M1120.5 407.3H1157" stroke="#a3b3b0" stroke-width="0.8"/>
<path d="M911 420H1061" stroke="#4f8f6c" stroke-width="1.3"/>
<path d="M1061 420H1157" stroke="#c6ddd6" stroke-width="1"/>
<rect x="911" y="447" width="163" height="4" fill="#bfd0c6" fill-opacity="0.85" stroke="#64957b" stroke-width="1"/>
<path d="M1074 447.3H1157" stroke="#c6ddd6" stroke-width="1"/>
<rect x="911.7" y="460.6" width="166" height="7.1" fill="#bfd0c6" fill-opacity="0.85" stroke="#64957b" stroke-width="1"/>
<path d="M1077.7 460.4H1157M1077.7 467.4H1157" stroke="#a3b3b0" stroke-width="0.8"/>
<rect x="962.7" y="493.3" width="113.7" height="4" fill="#bfd0c6" fill-opacity="0.85" stroke="#64957b" stroke-width="1"/>
<path d="M1076.4 493.6H1157" stroke="#a3b3b0" stroke-width="0.8"/>
<path d="M993.6 507.4H1157" stroke="#95aba5" stroke-width="0.9"/>
<!-- trend lines -->
<path d="M826.8 384.2L1116.5 426.6" stroke="#6a8cc4" stroke-width="1"/>
<path d="M798.4 415.2L902 378.4M800 445.3L910.4 398.5" stroke="#9c7b2f" stroke-width="1.45"/>
<path d="M963.7 500.8L1080.4 421.9" stroke="#c4b9bc" stroke-width="1"/>
<path d="M962 519.6L1013.5 499" stroke="#c4b9bc" stroke-width="1"/>
<!-- markers -->
<path d="M998 478l3 1.5-1 1 2.5 2.5-1 1-2.5-2.5-1 1z" fill="#111"/>
<path d="M1006 490l3 1.5-1 1 2.5 2.5-1 1-2.5-2.5-1 1z" fill="#111"/>
<path d="M994 500l3 1.5-1 1 2.5 2.5-1 1-2.5-2.5-1 1z" fill="#111"/>
<text x="975.7" y="527" font-size="13" fill="#2a2e39" textLength="70.3" lengthAdjust="spacingAndGlyphs">support line</text>
<g font-size="23.4" font-weight="bold" fill="#131722" stroke="#131722" stroke-width="0.8" text-anchor="middle"><text x="982.4" y="88">E</text><text x="998" y="88">T</text><text x="1016.4" y="88">H</text><path d="M1038.6 71.2L1029 90.8" stroke-width="3.4" fill="none"/><text x="1053.3" y="88">U</text><text x="1070.7" y="88">S</text><text x="1089.7" y="88">D</text></g>
<!-- legend -->
<text x="11.5" y="48.3" font-size="9.3" fill="#45474d" stroke="#45474d" stroke-width="0.2" textLength="203" lengthAdjust="spacingAndGlyphs">Ethereum / TetherUS, D, BINANCE, Heikin Ashi</text>
<!-- borders -->
<path d="M4.5 32.5H1195.5V642.5H4.5Z M4.5 622.5H1195.5 M1157.5 32.5V642.5" stroke="#666" stroke-width="1" fill="none"/>
<path d="M49 622.5v3M107 622.5v3M166 622.5v3M225 622.5v3M285 622.5v3M344.3 622.5v3M459 622.5v3M516.7 622.5v3M576.7 622.5v3M633.3 622.5v3M694 622.5v3M754 622.5v3M812.3 622.5v3M871.7 622.5v3M930 622.5v3M990 622.5v3M1050 622.5v3M1107 622.5v3M1157.5 595.7h3M1157.5 559.1h3M1157.5 522.5h3M1157.5 486h3M1157.5 449.4h3M1157.5 412.8h3M1157.5 376.2h3M1157.5 339.6h3M1157.5 303.1h3M1157.5 266.5h3M1157.5 229.9h3M1157.5 193.3h3M1157.5 156.7h3M1157.5 120.2h3M1157.5 83.6h3M1157.5 47h3" stroke="#555" stroke-width="1" fill="none"/>
<g font-size="8.2">
<text x="1164.3" y="598.7" fill="#4a4d55">80.00</text><text x="1164.3" y="562.1" fill="#4a4d55">100.00</text><text x="1164.3" y="525.5" fill="#4a4d55">120.00</text><text x="1164.3" y="489" fill="#4a4d55">140.00</text><text x="1164.3" y="452.4" fill="#4a4d55">160.00</text><text x="1164.3" y="415.8" fill="#4a4d55">180.00</text><text x="1164.3" y="379.2" fill="#4a4d55">200.00</text><text x="1164.3" y="342.6" fill="#4a4d55">220.00</text><text x="1164.3" y="306.1" fill="#4a4d55">240.00</text><text x="1164.3" y="269.5" fill="#4a4d55">260.00</text><text x="1164.3" y="232.9" fill="#4a4d55">280.00</text><text x="1164.3" y="196.3" fill="#4a4d55">300.00</text><text x="1164.3" y="159.7" fill="#4a4d55">320.00</text><text x="1164.3" y="123.2" fill="#4a4d55">340.00</text><text x="1164.3" y="86.6" fill="#4a4d55">360.00</text><text x="1164.3" y="50" fill="#4a4d55">380.00</text>
</g>
<g font-size="8.4">
<text x="49" y="636" text-anchor="middle" fill="#5d606b">Sep</text><text x="107" y="636" text-anchor="middle" fill="#5d606b">Oct</text><text x="166" y="636" text-anchor="middle" fill="#5d606b">Nov</text><text x="225" y="636" text-anchor="middle" fill="#5d606b">Dec</text><text x="285" y="636" text-anchor="middle" font-weight="bold" fill="#4a4f5a">2019</text><text x="344.3" y="636" text-anchor="middle" fill="#5d606b">Feb</text><text x="459" y="636" text-anchor="middle" fill="#5d606b">Apr</text><text x="516.7" y="636" text-anchor="middle" fill="#5d606b">May</text><text x="576.7" y="636" text-anchor="middle" fill="#5d606b">Jun</text><text x="633.3" y="636" text-anchor="middle" fill="#5d606b">Jul</text><text x="694" y="636" text-anchor="middle" fill="#5d606b">Aug</text><text x="754" y="636" text-anchor="middle" fill="#5d606b">Sep</text><text x="812.3" y="636" text-anchor="middle" fill="#5d606b">Oct</text><text x="871.7" y="636" text-anchor="middle" fill="#5d606b">Nov</text><text x="930" y="636" text-anchor="middle" fill="#5d606b">Dec</text><text x="990" y="636" text-anchor="middle" font-weight="bold" fill="#4a4f5a">2020</text><text x="1050" y="636" text-anchor="middle" fill="#5d606b">Feb</text><text x="1107" y="636" text-anchor="middle" fill="#5d606b">2</text>
</g>
<!-- price highlight labels -->
<g font-size="8.6" fill="#0f1a22" stroke="#0f1a22" stroke-width="0.15">
<rect x="1158" y="241.5" width="37" height="13" fill="#86c6d9" stroke="none"/>
<text x="1164.6" y="251.2" textLength="23.6" lengthAdjust="spacingAndGlyphs">270.02</text>
<rect x="1158" y="400.5" width="37" height="25.5" fill="#86c6d9" stroke="none"/>
<text x="1164.6" y="410.2" textLength="23.6" lengthAdjust="spacingAndGlyphs">183.02</text>
<text x="1164.6" y="423.2" textLength="23.6" lengthAdjust="spacingAndGlyphs">175.93</text>
<rect x="1158" y="441" width="37" height="11.3" fill="#86c6d9" stroke="none"/>
<text x="1164.6" y="450.2" textLength="23.6" lengthAdjust="spacingAndGlyphs">161.31</text>
<rect x="1158" y="461.5" width="37" height="12" fill="#86c6d9" stroke="none"/>
<text x="1164.6" y="471.6" textLength="23.6" lengthAdjust="spacingAndGlyphs">150.11</text>
<rect x="1158" y="453.5" width="37" height="13.6" fill="#86c6d9" stroke="none"/>
<text x="1164.6" y="463.2" textLength="23.6" lengthAdjust="spacingAndGlyphs">153.65</text>
<rect x="1158" y="487.4" width="37" height="11.9" fill="#86c6d9" stroke="none"/>
<text x="1164.6" y="496.6" textLength="23.6" lengthAdjust="spacingAndGlyphs">135.77</text>
<rect x="1158" y="501" width="37" height="12" fill="#86c6d9" stroke="none"/>
<text x="1164.6" y="510.6" textLength="23.6" lengthAdjust="spacingAndGlyphs">127.96</text>
<path d="M1158 248.2h3M1158 407.3h3M1158 420.2h3M1158 447.3h3M1158 460.6h3M1158 467.4h3M1158 493.6h3M1158 507.6h3" stroke="#13202a" stroke-width="1"/>
</g>
<!-- header -->
<text x="5" y="13" font-size="9.2" font-weight="bold" fill="#131722" textLength="23.3" lengthAdjust="spacingAndGlyphs">Fiardi</text><text x="31" y="13" font-size="9.2" fill="#131722" textLength="269.4" lengthAdjust="spacingAndGlyphs">published on TradingView.com, February 23, 2020 19:01:48 UTC</text>
<text x="5" y="25" font-size="9.2" font-weight="bold" fill="#131722" textLength="94.2" lengthAdjust="spacingAndGlyphs">BINANCE:ETHUSDT, D</text>
<text x="103.7" y="25" font-size="9.2" fill="#131722" textLength="28.8" lengthAdjust="spacingAndGlyphs">270.43</text>
<path d="M135 24.5L138.75 17.8L142.5 24.5Z" fill="#53b987"/>
<text x="145" y="25" font-size="9.2" fill="#131722" textLength="64" lengthAdjust="spacingAndGlyphs">+8.86 (+3.39%)</text>
<text x="212.4" y="25" font-size="9.2" font-weight="bold" fill="#131722">O:</text>
<text x="223" y="25" font-size="9.2" fill="#53b987" textLength="28" lengthAdjust="spacingAndGlyphs">262.07</text>
<text x="255" y="25" font-size="9.2" font-weight="bold" fill="#131722">H:</text>
<text x="266" y="25" font-size="9.2" fill="#53b987" textLength="27.6" lengthAdjust="spacingAndGlyphs">275.00</text>
<text x="298" y="25" font-size="9.2" font-weight="bold" fill="#131722">L:</text>
<text x="306" y="25" font-size="9.2" fill="#53b987" textLength="28" lengthAdjust="spacingAndGlyphs">261.02</text>
<text x="338" y="25" font-size="9.2" font-weight="bold" fill="#131722">C:</text>
<text x="347" y="25" font-size="9.2" fill="#53b987" textLength="28.6" lengthAdjust="spacingAndGlyphs">267.00</text>
<!-- logo -->
<g transform="translate(4.2,650)" fill="#3185d3">
<circle cx="4.6" cy="7.6" r="3.9"/><circle cx="10.2" cy="5" r="5"/><circle cx="15.8" cy="7.6" r="4.1"/>
<rect x="0.7" y="7.6" width="19.2" height="4.1" rx="1.8"/>
<path d="M5.5 8.8L10.3 4.6L12.8 9.2L16.6 7.2" stroke="#8cc4f2" stroke-width="0.8" fill="none"/>
</g>
<text x="25.8" y="659.2" font-size="10" fill="#3c3f47" textLength="52.5" lengthAdjust="spacingAndGlyphs">TradingView</text>
</svg>
</body></html>
